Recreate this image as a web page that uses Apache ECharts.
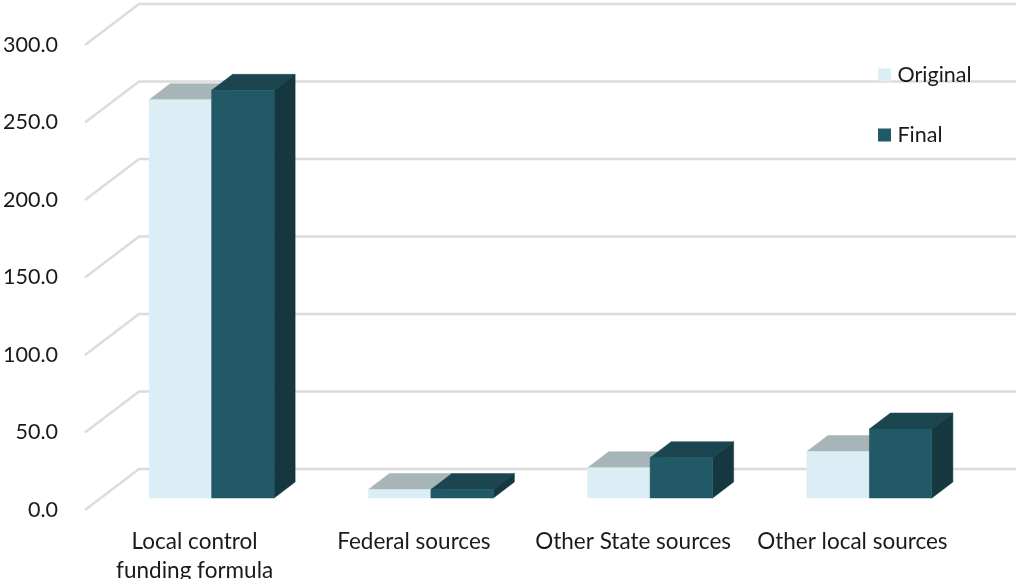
<!DOCTYPE html>
<html>
<head>
<meta charset="utf-8">
<style>html,body{margin:0;padding:0;background:#fff}#chart{width:1017px;height:579px}</style>
<script src="https://cdn.jsdelivr.net/npm/echarts@6/dist/echarts.min.js"></script>
</head>
<body>
<div id="chart"></div>
<script>
const categories = ['Local control\nfunding formula', 'Federal sources', 'Other State sources', 'Other local sources'];
const originalValues = [257, 5.5, 19.5, 30];
const finalValues = [263, 5.5, 26, 44.5];
const gridTicks = [0, 50, 100, 150, 200, 250, 300];

// Oblique projection used for the pseudo-3D floor, wall and boxes (pixels).
const WALL_DX = 54, WALL_DY = -41;
const BOX_SHIFT_X = 17, BOX_SHIFT_Y = -12;
const BOX_DX = 21, BOX_DY = -16;
const BAR_WIDTH = 62.5;
const FONT = 'Lato, "Open Sans", sans-serif';

const boxRenderer = (slot, front, top, side) => (params, api) => {
  const cat = api.value(0);
  const base = api.coord([cat, 0]);
  const peak = api.coord([cat, api.value(1)]);
  const x0 = base[0] + BOX_SHIFT_X + slot * BAR_WIDTH;
  const x1 = x0 + BAR_WIDTH;
  const yb = base[1] + BOX_SHIFT_Y;
  const yt = peak[1] + BOX_SHIFT_Y;
  const face = (points, fill) => ({
    type: 'polygon',
    shape: { points },
    style: { fill, stroke: fill, lineWidth: 0.5 }
  });
  return {
    type: 'group',
    children: [
      face([[x0, yt], [x0 + BOX_DX, yt + BOX_DY], [x1 + BOX_DX, yt + BOX_DY], [x1, yt]], top),
      face([[x1, yb], [x1, yt], [x1 + BOX_DX, yt + BOX_DY], [x1 + BOX_DX, yb + BOX_DY]], side),
      face([[x0, yb], [x0, yt], [x1, yt], [x1, yb]], front)
    ]
  };
};

// Gridlines run up the side wall from the axis, then along the back wall.
const wallRenderer = (params, api) => {
  const v = api.value(0);
  const band = api.size([1, 0])[0];
  const first = api.coord([0, v]);
  const x0 = first[0] - band / 2;
  const x1 = x0 + band * categories.length + WALL_DX;
  const y = first[1];
  return {
    type: 'polyline',
    shape: { points: [[x0, y], [x0 + WALL_DX, y + WALL_DY], [x1, y + WALL_DY]] },
    style: { fill: 'none', stroke: '#DCDCDC', lineWidth: 2.4 }
  };
};

const chart = echarts.init(document.getElementById('chart'), null, { renderer: 'canvas' });
chart.setOption({
  animation: false,
  backgroundColor: '#fff',
  grid: { left: 85, right: 55, top: 45, bottom: 69, containLabel: false, outerBoundsMode: 'none' },
  xAxis: {
    type: 'category',
    data: categories,
    axisLine: { show: false },
    axisTick: { show: false },
    splitLine: { show: false },
    axisLabel: { color: '#1a1a1a', fontFamily: FONT, fontSize: 22.5, margin: 17, lineHeight: 29, interval: 0, hideOverlap: false }
  },
  yAxis: {
    type: 'value',
    min: 0,
    max: 300,
    interval: 50,
    axisLine: { show: false },
    axisTick: { show: false },
    splitLine: { show: false },
    axisLabel: {
      color: '#1a1a1a', fontFamily: FONT, fontSize: 21.5, margin: 27, padding: [0, 0, 3, 0],
      formatter: v => v.toFixed(1)
    }
  },
  legend: {
    data: ['Original', 'Final'],
    orient: 'vertical',
    left: 873,
    top: 59,
    itemWidth: 13,
    itemHeight: 13,
    itemGap: 38,
    icon: 'rect',
    textStyle: { color: '#1a1a1a', fontFamily: FONT, fontSize: 21.5, padding: [0, 0, 2, 1.5] }
  },
  series: [
    {
      type: 'custom', name: 'Wall', silent: true, clip: false, z: 1,
      data: gridTicks.map(v => [v]),
      encode: { y: 0 },
      renderItem: wallRenderer
    },
    {
      type: 'custom', name: 'Original', clip: false, z: 2,
      itemStyle: { color: '#DCEEF5' },
      data: originalValues.map((v, i) => [i, v]),
      encode: { x: 0, y: 1 },
      renderItem: boxRenderer(-1, '#DCEEF5', '#A7B5B9', '#A7B5B9')
    },
    {
      type: 'custom', name: 'Final', clip: false, z: 3,
      itemStyle: { color: '#215967' },
      data: finalValues.map((v, i) => [i, v]),
      encode: { x: 0, y: 1 },
      renderItem: boxRenderer(0, '#215967', '#1B4650', '#15373F')
    }
  ]
});
</script>
</body>
</html>
